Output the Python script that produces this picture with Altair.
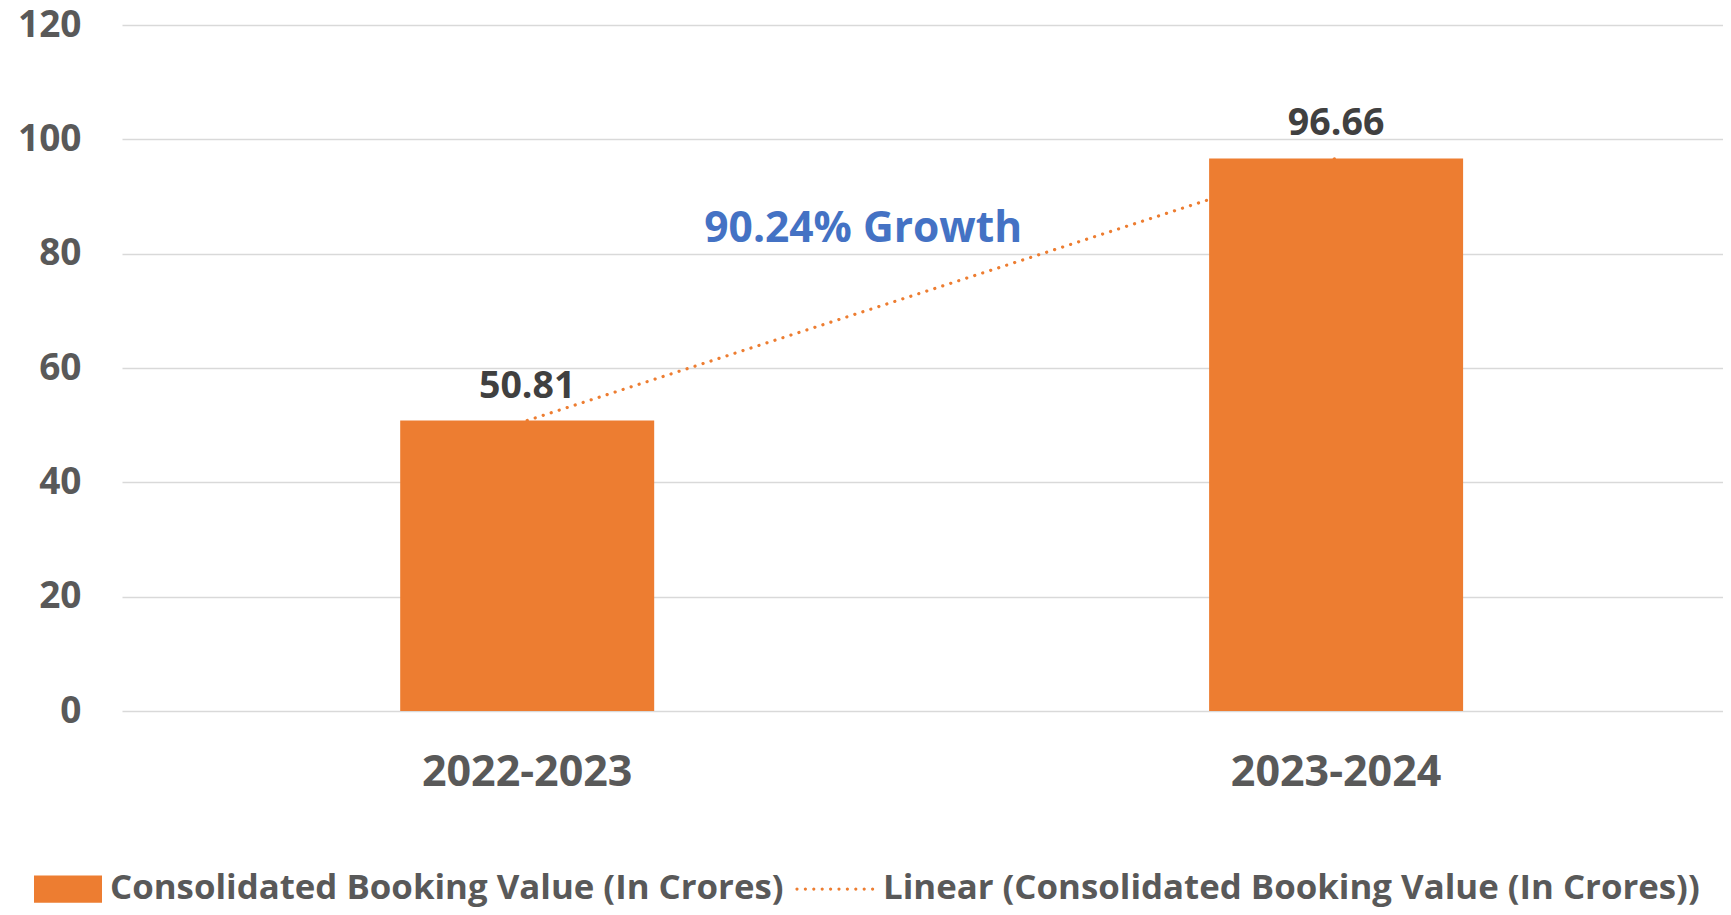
import altair as alt
import pandas as pd

# ---- data ----
years = ["2022-2023", "2023-2024"]
booking = [50.81, 96.66]
series_names = [
    "Consolidated Booking Value (In Crores)",
    "Linear (Consolidated Booking Value (In Crores))",
]
growth_label = ["90.24% Growth"]
growth_y = [82]
y_ticks = [0, 20, 40, 60, 80, 100, 120]

ORANGE = "#ED7D31"
GREY = "#595959"
FONT = "Open Sans"

df = pd.DataFrame({"year": years, "value": booking})
ann = pd.DataFrame({"year": [years[0]], "value": growth_y, "label": growth_label})
leg = pd.DataFrame({"series": series_names})

x = alt.X(
    "year:N",
    sort=years,
    scale=alt.Scale(paddingInner=0.686, paddingOuter=0.3326, align=0.517),
    axis=alt.Axis(
        title=None, labelAngle=0, domain=False, ticks=False, grid=False,
        labelFont=FONT, labelFontSize=43, labelFontWeight="bold",
        labelColor=GREY, labelPadding=40, labelLimit=1000,
    ),
)
y = alt.Y(
    "value:Q",
    scale=alt.Scale(domain=[0, 120], nice=False),
    axis=alt.Axis(
        title=None, values=y_ticks, domain=False, ticks=False,
        labelFont=FONT, labelFontSize=37, labelFontWeight="bold",
        labelColor=GREY, labelPadding=41,
        gridColor="#D9D9D9", gridWidth=1.5,
    ),
)

trend = alt.Chart(df).mark_line(
    color=ORANGE, strokeWidth=3.2, strokeDash=[0.1, 8.3], strokeCap="round"
).encode(x=x, y=y)

bars = alt.Chart(df).mark_bar(color=ORANGE).encode(x=x, y=y)

labels = alt.Chart(df).mark_text(
    font=FONT, fontSize=37.5, fontWeight="bold", color="#404040",
    baseline="alphabetic", dy=-23,
).encode(x=x, y=y, text=alt.Text("value:Q", format=".2f"))

growth = alt.Chart(ann).mark_text(
    font=FONT, fontSize=42.5, fontWeight="bold", color="#4472C4",
    baseline="alphabetic", align="center", dx=336,
).encode(x=x, y=y, text="label:N")

rect_path = "M-0.7,-0.34H1V0.34H-0.7Z"
dots = []
for k in range(10):
    cx = -0.95 + k * 0.21
    dots.append(
        f"M{cx - 0.04:.3f},0a0.04,0.04 0 1,0 0.08,0a0.04,0.04 0 1,0 -0.08,0Z"
    )
dots_path = "".join(dots)

legend = alt.Legend(
    orient="none", legendX=-100, legendY=824, direction="horizontal",
    columns=2, title=None, symbolSize=6400, symbolOpacity=1,
    symbolStrokeWidth=0, labelFont=FONT, labelFontSize=34.8,
    labelFontWeight="bold", labelColor=GREY, labelOffset=8,
    columnPadding=11, labelLimit=3000, padding=0,
)

legend_layer = alt.Chart(leg).mark_point(filled=True, opacity=0, size=1).encode(
    color=alt.Color(
        "series:N",
        scale=alt.Scale(domain=series_names, range=[ORANGE, ORANGE]),
        legend=legend,
    ),
    shape=alt.Shape(
        "series:N",
        scale=alt.Scale(domain=series_names, range=[rect_path, dots_path]),
        legend=legend,
    ),
)

chart = (
    alt.layer(trend, bars, labels, growth, legend_layer)
    .properties(
        width=1601,
        height=686,
        padding={"left": 114, "top": 17, "right": 0, "bottom": 196},
        autosize="none",
        background="white",
    )
    .configure_view(stroke=None)
)

chart.save("out.html", embed_options={"renderer": "svg", "actions": False})
